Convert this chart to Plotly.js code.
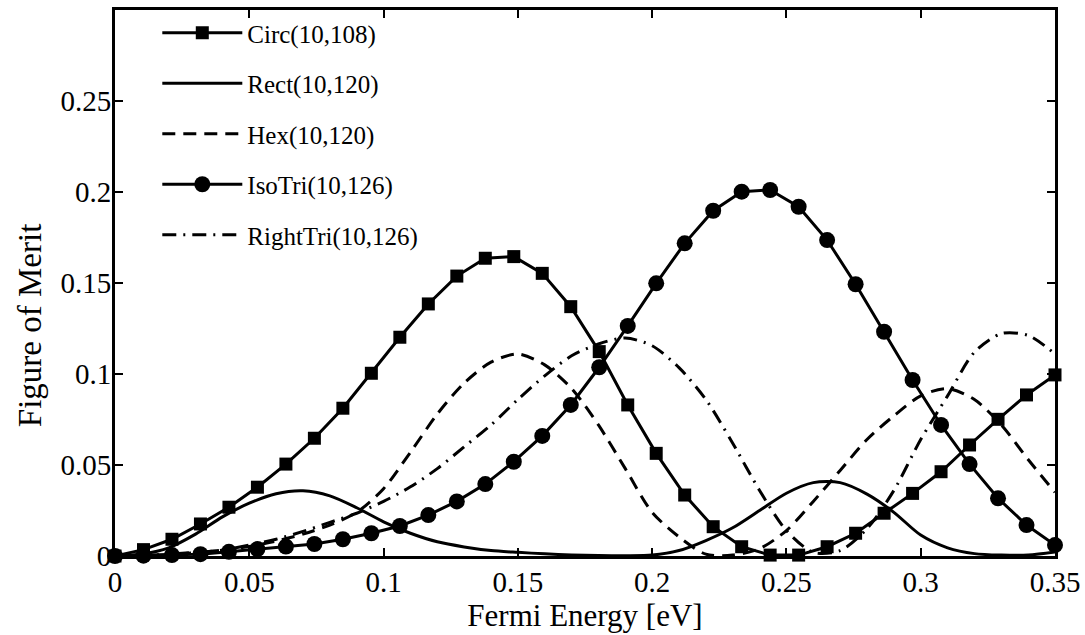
<!DOCTYPE html>
<html>
<head>
<meta charset="utf-8">
<script src="https://cdn.plot.ly/plotly-3.0.1.min.js"></script>
<style>html,body{margin:0;padding:0;background:#fff;}#chart{width:1085px;height:635px;}</style>
</head>
<body>
<div id="chart"></div>
<script>
// Marker series: 34 samples from 0 to 0.35 eV
const markerX = Array.from({length: 34}, (_, i) => 0.35 * i / 33);
const circValues = [0, 0.0035, 0.0092, 0.0176, 0.0268, 0.0378, 0.0505, 0.0647, 0.0812, 0.1004,
  0.1202, 0.1385, 0.1538, 0.1636, 0.1645, 0.1553, 0.137, 0.1123, 0.083, 0.0564,
  0.0335, 0.0161, 0.0051, 0.0005, 0.0005, 0.0051, 0.0125, 0.0235, 0.0344, 0.0463,
  0.061, 0.0751, 0.0885, 0.0995];
const isoTriValues = [0, 0.0002, 0.0005, 0.001, 0.0023, 0.0038, 0.0052, 0.0066, 0.0092, 0.0125,
  0.0165, 0.0225, 0.030, 0.0395, 0.0518, 0.066, 0.083, 0.1037, 0.1264, 0.1498,
  0.1718, 0.1897, 0.2002, 0.2011, 0.1919, 0.1736, 0.1493, 0.1232, 0.0967, 0.072,
  0.0505, 0.0317, 0.017, 0.006];

// Smooth curves: sampled every 0.01 eV
const curveX = Array.from({length: 36}, (_, i) => i / 100);
const rectValues = [0, 0.0011, 0.0045, 0.0120, 0.0215, 0.0290, 0.0342, 0.0358, 0.0330, 0.0265,
  0.0188, 0.0125, 0.0078, 0.0050, 0.0030, 0.0020, 0.0012, 0.0006, 0.0003, 0.0002,
  0.0005, 0.0030, 0.0085, 0.0155, 0.0250, 0.0345, 0.0403, 0.0403, 0.0340, 0.0240,
  0.0115, 0.0045, 0.0013, 0.0005, 0.0005, 0.0022];
const hexValues = [0, 0.0002, 0.0008, 0.0018, 0.0032, 0.0052, 0.0082, 0.0120, 0.0170, 0.0240,
  0.037, 0.057, 0.078, 0.095, 0.1065, 0.111, 0.105, 0.092, 0.072, 0.048,
  0.024, 0.0105, 0.001, 0.0005, 0.004, 0.014, 0.030, 0.047, 0.064, 0.077,
  0.088, 0.092, 0.086, 0.072, 0.053, 0.035];
const rightTriValues = [0, 0.0003, 0.001, 0.002, 0.0033, 0.006, 0.0092, 0.0135, 0.0185, 0.0235,
  0.030, 0.038, 0.048, 0.060, 0.072, 0.086, 0.099, 0.110, 0.1165, 0.1198,
  0.1155, 0.1035, 0.086, 0.062, 0.036, 0.014, 0.002, 0.003, 0.015, 0.036,
  0.064, 0.088, 0.112, 0.1222, 0.1212, 0.111];

const seriesNames = ['Circ(10,108)', 'Rect(10,120)', 'Hex(10,120)', 'IsoTri(10,126)', 'RightTri(10,126)'];
const xTickVals = [0, 0.05, 0.1, 0.15, 0.2, 0.25, 0.3, 0.35];
const xTickText = ['0', '0.05', '0.1', '0.15', '0.2', '0.25', '0.3', '0.35'];
const yTickVals = [0, 0.05, 0.1, 0.15, 0.2, 0.25];
const yTickText = ['0', '0.05', '0.1', '0.15', '0.2', '0.25'];
const xTitle = 'Fermi Energy [eV]';
const yTitle = 'Figure of Merit';

const FONT = 'Liberation Serif';

const traces = [
  {x: markerX, y: circValues, name: seriesNames[0], mode: 'lines+markers', legendgroup: 'a',
   line: {color: '#000', width: 3}, marker: {symbol: 'square', size: 13, color: '#000'}, cliponaxis: false},
  {x: curveX, y: rectValues, name: seriesNames[1], mode: 'lines', legendgroup: 'b',
   line: {color: '#000', width: 3, shape: 'spline', smoothing: 0.8}},
  {x: curveX, y: hexValues, name: seriesNames[2], mode: 'lines', legendgroup: 'c',
   line: {color: '#000', width: 3, dash: '13px,8px', shape: 'spline', smoothing: 0.8}},
  {x: markerX, y: isoTriValues, name: seriesNames[3], mode: 'lines+markers', legendgroup: 'd',
   line: {color: '#000', width: 3}, marker: {symbol: 'circle', size: 16, color: '#000'}, cliponaxis: false},
  {x: curveX, y: rightTriValues, name: seriesNames[4], mode: 'lines', legendgroup: 'e',
   line: {color: '#000', width: 3, dash: '14px,7px,2px,7px', shape: 'spline', smoothing: 0.8}}
];

const axisCommon = {
  showline: true, linecolor: '#000', linewidth: 3, mirror: 'ticks',
  ticks: 'inside', ticklen: 8, tickwidth: 2, tickcolor: '#000',
  showgrid: false, zeroline: false,
  tickfont: {family: FONT, size: 29, color: '#000'}
};

const layout = {
  width: 1085, height: 635,
  margin: {l: 115, r: 30, t: 10, b: 79},
  paper_bgcolor: '#fff', plot_bgcolor: '#fff',
  font: {family: FONT, color: '#000'},
  showlegend: true,
  legend: {
    x: 0.045, y: 1.0, xanchor: 'left', yanchor: 'top',
    bgcolor: 'rgba(0,0,0,0)', borderwidth: 0,
    font: {family: FONT, size: 25, color: '#000'},
    tracegroupgap: 15, itemwidth: 80
  },
  xaxis: Object.assign({}, axisCommon, {
    range: [0, 0.35], tickvals: xTickVals, ticktext: xTickText, ticklabelstandoff: -2,
    title: {text: xTitle, font: {family: FONT, size: 31, color: '#000'}, standoff: 0}
  }),
  yaxis: Object.assign({}, axisCommon, {
    range: [0, 0.3], tickvals: yTickVals, ticktext: yTickText, ticklabelstandoff: -5
  }),
  annotations: [{
    text: yTitle, textangle: -90, showarrow: false,
    xref: 'paper', yref: 'paper', x: -0.0904, y: 0.421, xanchor: 'center', yanchor: 'middle',
    font: {family: FONT, size: 33, color: '#000'}
  }]
};

Plotly.newPlot('chart', traces, layout, {displayModeBar: false, staticPlot: true});
</script>
</body>
</html>
